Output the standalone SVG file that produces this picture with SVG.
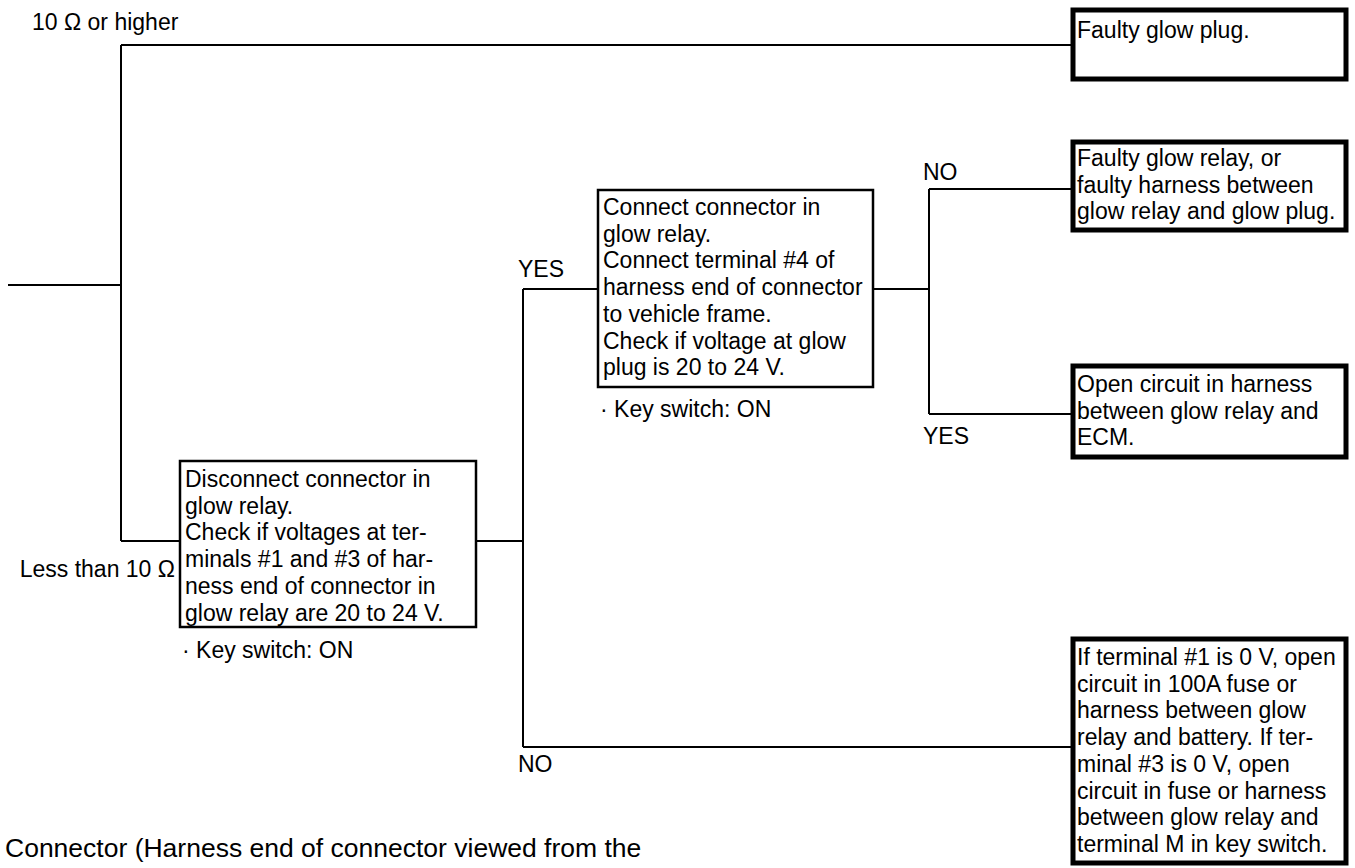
<svg xmlns="http://www.w3.org/2000/svg" width="1355" height="868" viewBox="0 0 1355 868">
  <style>
    text { font-family: "Liberation Sans", Arial, sans-serif; font-size: 23px; fill: #000; }
    .caption { font-size: 26.5px; }
    .link { fill: none; stroke: #000; stroke-width: 2; }
    .check { fill: #fff; stroke: #000; stroke-width: 2.5; }
    .result { fill: #fff; stroke: #000; stroke-width: 5; }
  </style>
  <rect width="1355" height="868" fill="#fff"/>

  <!-- connectors -->
  <g id="connectors">
    <path class="link" d="M8 285 H121"/>
    <path class="link" d="M121 45 V541"/>
    <path class="link" d="M121 45 H1072"/>
    <path class="link" d="M121 541 H180"/>
    <path class="link" d="M476 541 H523"/>
    <path class="link" d="M523 289 V747"/>
    <path class="link" d="M523 289 H598"/>
    <path class="link" d="M523 747 H1072"/>
    <path class="link" d="M873 289 H929"/>
    <path class="link" d="M929 189 V414"/>
    <path class="link" d="M929 189 H1072"/>
    <path class="link" d="M929 414 H1072"/>
  </g>

  <!-- branch labels -->
  <g id="labels">
    <text x="32" y="30">10 Ω or higher</text>
    <text x="175" y="577" text-anchor="end">Less than 10 Ω</text>
    <text x="518" y="277">YES</text>
    <text x="518" y="772">NO</text>
    <text x="923" y="180">NO</text>
    <text x="923" y="444">YES</text>
  </g>

  <!-- check: relay connector voltages -->
  <g id="check-relay-voltage">
    <rect class="check" x="180" y="461" width="296" height="166"/>
    <text x="185" y="487">Disconnect connector in</text>
    <text x="185" y="513.7">glow relay.</text>
    <text x="185" y="540.4">Check if voltages at ter-</text>
    <text x="185" y="567">minals #1 and #3 of har-</text>
    <text x="185" y="593.8">ness end of connector in</text>
    <text x="185" y="620.5">glow relay are 20 to 24 V.</text>
    <text x="182" y="658">· Key switch: ON</text>
  </g>

  <!-- check: glow plug voltage -->
  <g id="check-plug-voltage">
    <rect class="check" x="598" y="190" width="275" height="197"/>
    <text x="603" y="215">Connect connector in</text>
    <text x="603" y="241.7">glow relay.</text>
    <text x="603" y="268.4">Connect terminal #4 of</text>
    <text x="603" y="295">harness end of connector</text>
    <text x="603" y="321.8">to vehicle frame.</text>
    <text x="603" y="348.5">Check if voltage at glow</text>
    <text x="603" y="375.2">plug is 20 to 24 V.</text>
    <text x="600" y="417">· Key switch: ON</text>
  </g>

  <!-- results -->
  <g id="result-glow-plug">
    <rect class="result" x="1073" y="10" width="273" height="69"/>
    <text x="1077" y="38">Faulty glow plug.</text>
  </g>

  <g id="result-relay">
    <rect class="result" x="1073" y="142" width="273" height="88"/>
    <text x="1077" y="166">Faulty glow relay, or</text>
    <text x="1077" y="192.7">faulty harness between</text>
    <text x="1077" y="219.4">glow relay and glow plug.</text>
  </g>

  <g id="result-ecm">
    <rect class="result" x="1073" y="366" width="273" height="91"/>
    <text x="1077" y="392">Open circuit in harness</text>
    <text x="1077" y="418.7">between glow relay and</text>
    <text x="1077" y="445.4">ECM.</text>
  </g>

  <g id="result-supply">
    <rect class="result" x="1073" y="639" width="273" height="224"/>
    <text x="1077" y="665">If terminal #1 is 0 V, open</text>
    <text x="1077" y="691.7">circuit in 100A fuse or</text>
    <text x="1077" y="718.4">harness between glow</text>
    <text x="1077" y="745.1">relay and battery. If ter-</text>
    <text x="1077" y="771.8">minal #3 is 0 V, open</text>
    <text x="1077" y="798.5">circuit in fuse or harness</text>
    <text x="1077" y="825.2">between glow relay and</text>
    <text x="1077" y="851.9">terminal M in key switch.</text>
  </g>

  <text class="caption" x="5" y="857">Connector (Harness end of connector viewed from the</text>
</svg>
